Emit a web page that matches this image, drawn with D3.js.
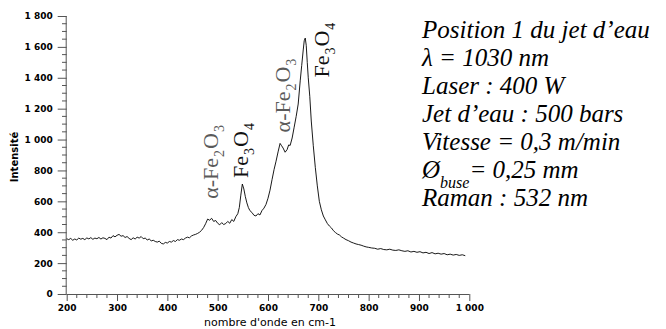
<!DOCTYPE html>
<html><head><meta charset="utf-8">
<script src="https://cdn.jsdelivr.net/npm/d3@7"></script>
<style>body{margin:0;background:#fff}svg{display:block}</style>
</head><body>
<svg id="c" width="666" height="329"></svg>
<script>
// wavenumber (cm-1)
const wavenumber = [200,204,208,212,216,220,224,228,232,236,240,244,248,252,256,260,264,268,272,276,280,284,288,292,296,300,304,308,312,316,320,324,328,332,336,340,344,348,352,356,360,364,368,372,376,380,384,388,392,396,400,404,408,412,416,420,424,428,432,436,440,444,448,452,456,460,464,468,472,476,480,484,488,492,496,500,504,508,512,516,520,524,528,532,536,540,543,546,549,552,555,558,561,564,568,572,576,580,584,588,592,596,600,604,608,612,616,620,624,627,630,634,638,641,644,648,652,656,660,664,667,670,672,674,676,678,680,683,686,690,694,698,702,706,710,714,718,722,726,730,734,738,742,746,750,755,760,765,770,775,780,785,790,795,800,806,812,818,824,830,836,842,848,854,860,866,872,878,884,890,896,902,908,914,920,926,932,938,944,950,956,962,968,974,980,986,992];
// intensity
const intensity = [358,352,360,348,356,350,362,355,360,352,363,357,365,354,362,358,366,356,364,360,352,368,362,378,370,380,386,374,378,366,372,360,352,364,356,368,362,372,358,362,350,356,344,348,340,336,342,328,324,334,330,340,336,346,340,352,348,356,352,362,368,364,376,382,386,392,400,412,430,455,485,478,490,470,476,458,448,462,450,456,470,458,482,470,500,520,560,640,712,680,630,590,560,540,528,510,505,520,512,540,556,580,620,672,740,805,860,920,975,960,945,918,935,965,962,1010,1080,1150,1230,1380,1480,1580,1640,1657,1610,1500,1400,1280,1120,960,820,700,600,545,505,480,456,440,428,410,398,388,382,370,362,352,345,336,330,324,320,316,310,305,302,298,296,290,294,288,286,290,284,282,286,280,276,280,272,276,270,274,266,270,262,268,260,264,258,262,254,258,252,256,250,254,248];
const yTicks = [0,200,400,600,800,1000,1200,1400,1600,1800];
const yTickLabels = ["0","200","400","600","800","1 000","1 200","1 400","1 600","1 800"];
const xTicks = [200,300,400,500,600,700,800,900,1000];
const xTickLabels = ["200","300","400","500","600","700","800","900","1 000"];
const xTitle = "nombre d'onde en cm-1";
const yTitle = "Intensité";
// label anchor: wavenumber / intensity where the rotated text starts (its baseline)
const peakLabels = [
  {wn: 501, I: 610, parts: [["α-Fe",0],["2",1],["O",0],["3",1]], color: "#5a5a5a"},
  {wn: 561, I: 745, parts: [["Fe",0],["3",1],["O",0],["4",1]], color: "#111"},
  {wn: 643, I: 1040, parts: [["α-Fe",0],["2",1],["O",0],["3",1]], color: "#5a5a5a"},
  {wn: 722, I: 1395, parts: [["Fe",0],["3",1],["O",0],["4",1]], color: "#111"}
];
const infoLines = [
  [["Position 1 du jet d’eau",0]],
  [["λ = 1030 nm",0]],
  [["Laser : 400 W",0]],
  [["Jet d’eau : 500 bars",0]],
  [["Vitesse = 0,3 m/min",0]],
  [["Ø",0],["buse",1],["= 0,25 mm",0]],
  [["Raman : 532 nm",0]]
];

const svg = d3.select("#c");
const x = d3.scaleLinear().domain([200,1000]).range([66.7,469.3]);
const y = d3.scaleLinear().domain([0,1800]).range([294,16]);
const axisFont = "'DejaVu Sans', Verdana, sans-serif";

// Y axis
const yAxis = d3.axisLeft(y).tickValues(yTicks).tickSize(9).tickPadding(5)
  .tickFormat((d,i)=>yTickLabels[i]);
const gy = svg.append("g").attr("transform","translate(66.7,0)").call(yAxis);
gy.select(".domain").attr("stroke","#555").attr("d","M-0.5,"+y(0)+"V"+y(1800));
gy.selectAll(".tick line").attr("stroke","#555");
gy.selectAll(".tick text").attr("font-family",axisFont).attr("font-weight","bold").attr("font-size",9).attr("fill","#000");
const yMinor = d3.range(0,1801,50).filter(v=>v%200!==0);
svg.append("g").selectAll("line").data(yMinor).join("line")
  .attr("x1",62).attr("x2",66.7).attr("y1",d=>y(d)).attr("y2",d=>y(d)).attr("stroke","#555");

// X axis
const xAxis = d3.axisBottom(x).tickValues(xTicks).tickSize(7).tickPadding(4)
  .tickFormat((d,i)=>xTickLabels[i]);
const gx = svg.append("g").attr("transform","translate(0,294)").call(xAxis);
gx.select(".domain").attr("stroke","#555").attr("d","M"+x(200)+",0.5H"+x(1000));
gx.selectAll(".tick line").attr("stroke","#555");
gx.selectAll(".tick text").attr("font-family",axisFont).attr("font-weight","bold").attr("font-size",9).attr("fill","#000");
const xMinor = d3.range(200,1001,20).filter(v=>v%100!==0);
svg.append("g").selectAll("line").data(xMinor).join("line")
  .attr("y1",294).attr("y2",298).attr("x1",d=>x(d)).attr("x2",d=>x(d)).attr("stroke","#555");

// titles
svg.append("text").attr("x",270).attr("y",326).attr("text-anchor","middle")
  .attr("font-family",axisFont).attr("font-size",11).attr("fill","#000").text(xTitle);
svg.append("text").attr("transform","translate(18,157) rotate(-90)").attr("text-anchor","middle")
  .attr("font-family",axisFont).attr("font-weight","bold").attr("font-size",10).attr("fill","#000").text(yTitle);

// spectrum
const pts = wavenumber.map((w,i)=>[w,intensity[i]]);
svg.append("path").datum(pts)
  .attr("d", d3.line().x(d=>x(d[0])).y(d=>y(d[1])))
  .attr("fill","none").attr("stroke","#000").attr("stroke-width",0.9);

// peak labels (rotated)
const serif = "'Liberation Serif','Times New Roman',serif";
peakLabels.forEach(p=>{
  const t = svg.append("text").attr("transform",`translate(${x(p.wn)},${y(p.I)}) rotate(-90)`)
    .attr("font-family",serif).attr("font-size",22).attr("fill",p.color);
  let prevSub = 0;
  p.parts.forEach(([s,sub])=>{
    t.append("tspan").attr("font-size",sub?14:22).attr("dy",(sub-prevSub)*6).attr("dx",1).text(s);
    prevSub = sub;
  });
});

// info block
infoLines.forEach((line,li)=>{
  const t = svg.append("text").attr("x",422).attr("y",38+li*28)
    .attr("font-family",serif).attr("font-style","italic").attr("font-size",25).attr("fill","#000");
  let prevSub = 0;
  line.forEach(([s,sub])=>{
    t.append("tspan").attr("font-size",sub?16:25).attr("dy",(sub-prevSub)*10).text(s);
    prevSub = sub;
  });
});
</script>
</body></html>
